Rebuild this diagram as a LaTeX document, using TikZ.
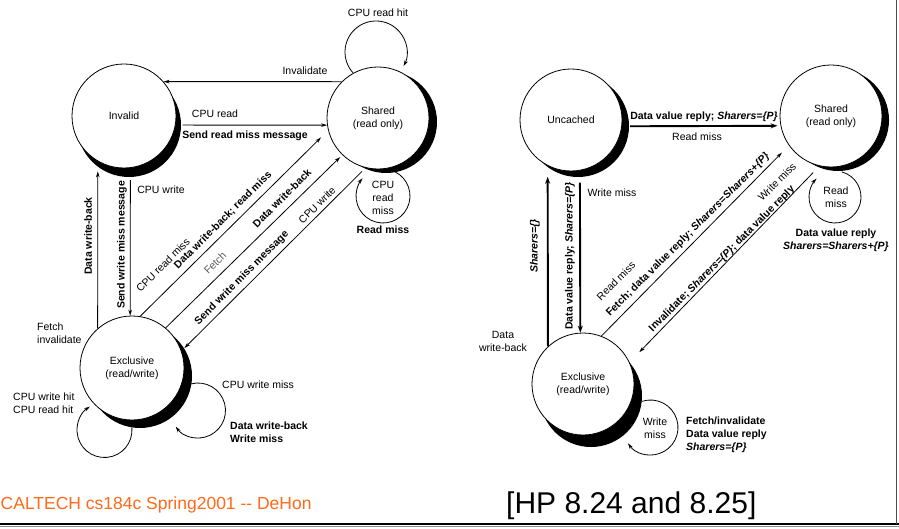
\documentclass[tikz,border=0pt]{standalone}
\usepackage{fontspec}
\setmainfont{Liberation Sans}
\usetikzlibrary{arrows.meta,shadows,calc}
\definecolor{footorange}{RGB}{255,105,25}
\begin{document}
\begin{tikzpicture}[x=1pt,y=-1pt,
  state/.style={circle, draw, line width=0.8pt, fill=white, minimum size=#1, inner sep=0pt, align=center,
     font=\fontsize{10.5}{13}\selectfont},
  sh/.style 2 args={drop shadow={shadow xshift=#1pt, shadow yshift=-#2pt, opacity=1, fill=black}},
  lbl/.style={inner sep=0pt, font=\fontsize{10.5}{13}\selectfont, align=center},
  blbl/.style={inner sep=0pt, font=\fontsize{10.5}{13}\selectfont\bfseries, align=center},
  arr/.style={line width=0.8pt, -{Stealth[length=6pt,width=3.6pt]}},
  tarr/.style={line width=1.9pt, -{Stealth[length=7pt,width=5pt]}},
  loopl/.style={line width=0.8pt, -{Stealth[length=6pt,width=3.6pt]}}
]
\useasboundingbox (0,0) rectangle (899,529);

% ---------------- left diagram: states ----------------
\node[state=104, sh={5}{9}] (IL) at (124,116) {Invalid};
\node[state=102, sh={8}{4}] (SL) at (378,118) {Shared\\(read only)};
\node[state=104, sh={8}{8}] (EL) at (132,368) {Exclusive\\(read/write)};

% connectors
\draw[arr] (SL.135) -- (IL.41);
\draw[arr] ([xshift=7pt]IL.-10) -- (SL.-172);
\draw[arr] (EL.131) -- ([yshift=-10pt]IL.-120);
\draw[arr] ([yshift=-12pt]IL.-83) -- (EL.92);
\draw[arr, shorten >=10pt] (EL.81) -- (SL.194);
\draw[arr, shorten >=3pt] (EL.50) -- (SL.226);
\draw[arr, shorten <=5pt, shorten >=4pt] (SL.256) -- (EL.19);

% self loops
\coordinate (cRH) at ($(SL.center)+(-2,-66)$);
\draw[loopl] (cRH) ++(-222:31) arc[start angle=-222, end angle=27, radius=31];
\coordinate (cRM) at ($(SL.center)+(5,78)$);
\draw[loopl] (cRM) ++(-75:27) arc[start angle=-75, end angle=221, radius=27];
\coordinate (cWH) at ($(EL.center)+(-27.5,62)$);
\draw[loopl] (cWH) ++(-5:27.5) arc[start angle=-5, end angle=238, radius=27.5];
\coordinate (cWM) at ($(EL.center)+(66,42.5)$);
\draw[loopl] (cWM) ++(-105:27.5) arc[start angle=-105, end angle=144, radius=27.5];

% labels
\node[lbl] (tRH) at (378,13) {CPU read hit};
\node[lbl] (tInv) at (305,71) {Invalidate};
\node[lbl] (tCR) at (215,114) {CPU read};
\node[blbl] (tSRM) at (245,136) {Send read miss message};
\node[lbl] (tCRM) at (383,198) {CPU\\read\\miss};
\node[blbl] (tRM) at (383,230) {Read miss};
\node[blbl, rotate=90] (tDWB) at (88,236) {Data write-back};
\node[blbl, rotate=90] (tSWM) at (122,245) {Send write miss message};
\node[lbl] (tCW) at (161,190) {CPU write};
\node[lbl, rotate=45] (tCRM2) at (163,265) {CPU read miss};
\node[blbl, rotate=45] (tDWBRM) at (223,220) {Data write-back; read miss};
\node[lbl, rotate=45, text=black!65] (tF) at (215,263) {Fetch};
\node[blbl, rotate=45] (tDWB2) at (282,198) {Data write-back};
\node[lbl, rotate=45] (tCW2) at (317,205) {CPU write};
\node[blbl, rotate=45] (tSWM2) at (242,278) {Send write miss message};
\node[lbl, anchor=west, align=left] (tFI) at (37,333.5) {Fetch\\invalidate};
\node[lbl, anchor=west, align=left] (tWH) at (13,403.5) {CPU write hit\\CPU read hit};
\node[lbl, anchor=west] (tCWM) at (222,385) {CPU write miss};
\node[blbl, anchor=west, align=left] (tDWBWM) at (230,432.5) {Data write-back\\Write miss};

% ---------------- right diagram: states ----------------
\node[state=102, sh={7}{6}] (UR) at (571,120) {Uncached};
\node[state=102, sh={7}{4}] (SR) at (831,116) {Shared\\(read only)};
\node[state=102, sh={8}{12}] (ER) at (583,384) {Exclusive\\(read/write)};

% connectors
\draw[tarr, shorten >=3pt] ([xshift=8pt]UR.-7) -- (SR.-169);
\draw[tarr] (ER.133) -- ([yshift=-11pt]UR.-117);
\draw[tarr] ([yshift=-12pt]UR.-80) -- (ER.93);
\draw[arr, shorten >=10pt] (ER.69) -- (SR.215);
\draw[arr, shorten <=9pt, shorten >=14pt] (SR.257) -- (ER.25);

% self loops
\coordinate (cSR) at ($(SR.center)+(4,81)$);
\draw[loopl] (cSR) ++(-75:26) arc[start angle=-75, end angle=225, radius=26];
\coordinate (cER) at ($(ER.center)+(67.5,43.5)$);
\draw[loopl] (cER) ++(-108:27.5) arc[start angle=-108, end angle=145, radius=27.5];

% labels
\node[blbl] (tDVR) at (704,117) {Data value reply; \textit{Sharers=\{P\}}};
\node[lbl] (tRM3) at (697,137) {Read miss};
\node[blbl, rotate=90] (tSE) at (535,246) {\textit{Sharers=\{\}}};
\node[blbl, rotate=90] (tDVR2) at (570,256) {Data value reply; \textit{Sharers=\{P\}}};
\node[lbl] (tWM) at (612,193) {Write miss};
\node[lbl] (tDW) at (503,341) {Data\\write-back};
\node[lbl, rotate=45] (tRM4) at (616,281) {Read miss};
\node[blbl, rotate=45] (tFDV) at (688,235) {Fetch; data value reply; \textit{Sharers=Sharers+\{P\}}};
\node[lbl, rotate=45] (tWM2) at (777,182) {Write miss};
\node[blbl, rotate=45] (tIS) at (722,259) {Invalidate; \textit{Sharers=\{P\}}; data value reply};
\node[lbl] (tRM5) at (836,197) {Read\\miss};
\node[blbl] (tDVR3) at (836,240) {Data value reply\\\textit{Sharers=Sharers+\{P\}}};
\node[lbl] (tWM6) at (655,428.5) {Write\\miss};
\node[blbl, anchor=west, align=left] (tFIR) at (686,435) {Fetch/invalidate\\Data value reply\\\textit{Sharers=\{P\}}};

% ---------------- footer ----------------
\node[anchor=base west, inner sep=0pt, font=\fontsize{17.5}{20}\selectfont, text=footorange] (foot) at (0.5,509) {CALTECH cs184c Spring2001 -{}- DeHon};
\node[anchor=base west, inner sep=0pt, font=\fontsize{30}{34}\selectfont] (ref) at (506,513) {[HP 8.24 and 8.25]};
\draw[line width=2pt] (0,523.5) -- (899,523.5);
\draw[line width=1.2pt, black!45] (0,526.5) -- (899,526.5);
\draw[line width=1.5pt, black!70] (896.5,0) -- (896.5,523.5);
\end{tikzpicture}
\end{document}
